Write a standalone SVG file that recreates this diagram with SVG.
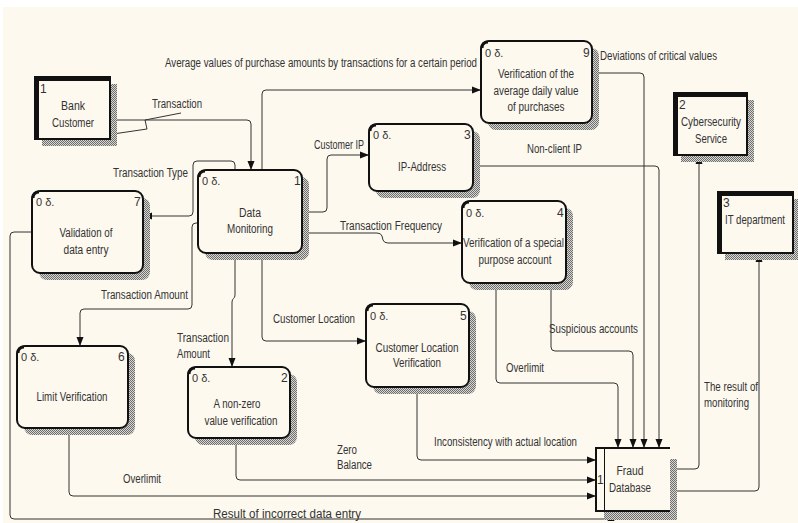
<svg xmlns="http://www.w3.org/2000/svg" xmlns:xlink="http://www.w3.org/1999/xlink" width="798" height="523" viewBox="0 0 798 523">
  <defs>
    <pattern id="hatch" width="2" height="2" patternUnits="userSpaceOnUse">
      <rect width="2" height="2" fill="#d8d6d0"/>
      <rect width="1" height="1" fill="#6e6e6e"/>
      <rect x="1" y="1" width="1" height="1" fill="#6e6e6e"/>
    </pattern>
    <!-- arrowhead, tip at the origin, pointing along +x -->
    <path id="ah" d="M0,0 L-9,-3.5 L-9,3.5 z" fill="#111"/>
    <style>
      text { font-family: "Liberation Sans Narrow", "Liberation Sans", Arial, sans-serif; font-size: 12px; fill: #333; }
      .mid { text-anchor: middle; }
      .tag { font-size: 11px; }
      .proc { fill: #fdf9ef; stroke: #111; stroke-width: 2; }
      .shadow { fill: url(#hatch); }
      .corner { fill: none; stroke: #111; stroke-width: 3; }
      .ent { fill: #fdf9ef; stroke: #111; stroke-width: 2; }
      .entthick { fill: none; stroke: #111; stroke-width: 4; }
      .flow { fill: none; stroke: #333; stroke-width: 1; }
    </style>
  </defs>

  <!-- page -->
  <rect width="798" height="523" fill="#ffffff"/>
  <rect x="3" y="7" width="795" height="516" fill="#fdf9ef"/>

  <!-- connectors -->
  <g id="connectors">
    <path class="flow" d="M110,120 H247 Q251,120 251,124 V170"/>
    <path class="flow" d="M113,134 L147,129 L145,120 L181,113"/>
    <path class="flow" d="M262,170 V94 Q262,90 266,90 H481"/>
    <path class="flow" d="M302,212 H323 Q327,212 327,208 V159 Q327,155 331,155 H369"/>
    <path class="flow" d="M302,233 H377 Q381,233 382,236 L383,240 Q384,243 388,243 H462"/>
    <path class="flow" d="M235,170 V165 Q235,161 231,161 H197 Q193,161 193,165 V212 Q193,216 189,216 H143"/>
    <path class="flow" d="M198,223 H196 Q192,223 192,227 V305 Q192,309 188,309 H84 Q80,309 80,313 V346"/>
    <path class="flow" d="M235,253 V295 C235,299 232,298 232,302 V367"/>
    <path class="flow" d="M262,253 V337 Q262,341 266,341 H366"/>
    <path class="flow" d="M32,232 H14 Q10,232 10,236 V515 Q10,519 14,519 H607 Q611,519 611,515 V511"/>
    <path class="flow" d="M69,428 V492 Q69,496 73,496 H596"/>
    <path class="flow" d="M236,438 V476 Q236,480 240,480 H596"/>
    <path class="flow" d="M417,387 V456 Q417,460 421,460 H596"/>
    <path class="flow" d="M496,283 V379 Q496,383 500,383 H614 Q618,383 618,387 V448"/>
    <path class="flow" d="M551,283 V347 Q551,351 555,351 H629 Q633,351 633,355 V448"/>
    <path class="flow" d="M592,73 H640 Q644,73 644,77 V448"/>
    <path class="flow" d="M473,166 H655 Q659,166 659,170 V448"/>
    <path class="flow" d="M670,469 H695 Q699,469 699,465 V155"/>
    <path class="flow" d="M670,491 H755 Q759,491 759,487 V253"/>
    <!-- arrowheads -->
    <use xlink:href="#ah" href="#ah" transform="translate(251,170) rotate(90)"/>
    <use xlink:href="#ah" href="#ah" transform="translate(481,90)"/>
    <use xlink:href="#ah" href="#ah" transform="translate(369,155)"/>
    <use xlink:href="#ah" href="#ah" transform="translate(462,243)"/>
    <use xlink:href="#ah" href="#ah" transform="translate(143,216) rotate(180)"/>
    <use xlink:href="#ah" href="#ah" transform="translate(80,346) rotate(90)"/>
    <use xlink:href="#ah" href="#ah" transform="translate(232,367) rotate(90)"/>
    <use xlink:href="#ah" href="#ah" transform="translate(366,341)"/>
    <use xlink:href="#ah" href="#ah" transform="translate(611,512) rotate(-90)"/>
    <use xlink:href="#ah" href="#ah" transform="translate(596,496)"/>
    <use xlink:href="#ah" href="#ah" transform="translate(596,480)"/>
    <use xlink:href="#ah" href="#ah" transform="translate(596,460)"/>
    <use xlink:href="#ah" href="#ah" transform="translate(618,448) rotate(90)"/>
    <use xlink:href="#ah" href="#ah" transform="translate(633,448) rotate(90)"/>
    <use xlink:href="#ah" href="#ah" transform="translate(644,448) rotate(90)"/>
    <use xlink:href="#ah" href="#ah" transform="translate(659,448) rotate(90)"/>
    <use xlink:href="#ah" href="#ah" transform="translate(699,155) rotate(-90)"/>
    <use xlink:href="#ah" href="#ah" transform="translate(759,253) rotate(-90)"/>
  </g>

  <!-- flow labels -->
  <g id="labels">
    <text x="165" y="67" textLength="312" lengthAdjust="spacingAndGlyphs">Average values of purchase amounts by transactions for a certain period</text>
    <text x="152" y="108" textLength="50" lengthAdjust="spacingAndGlyphs">Transaction</text>
    <text x="113" y="177" textLength="75" lengthAdjust="spacingAndGlyphs">Transaction Type</text>
    <text x="314" y="149" textLength="50" lengthAdjust="spacingAndGlyphs">Customer IP</text>
    <text x="340" y="230" textLength="102" lengthAdjust="spacingAndGlyphs">Transaction Frequency</text>
    <text x="600" y="60" textLength="117" lengthAdjust="spacingAndGlyphs">Deviations of critical values</text>
    <text x="527" y="153" textLength="55" lengthAdjust="spacingAndGlyphs">Non-client IP</text>
    <text x="101" y="299" textLength="87" lengthAdjust="spacingAndGlyphs">Transaction Amount</text>
    <text x="177" y="342" textLength="52" lengthAdjust="spacingAndGlyphs">Transaction</text>
    <text x="177" y="358" textLength="33" lengthAdjust="spacingAndGlyphs">Amount</text>
    <text x="273" y="323" textLength="82" lengthAdjust="spacingAndGlyphs">Customer Location</text>
    <text x="549" y="333" textLength="89" lengthAdjust="spacingAndGlyphs">Suspicious accounts</text>
    <text x="506" y="372" textLength="38" lengthAdjust="spacingAndGlyphs">Overlimit</text>
    <text x="434" y="446" textLength="143" lengthAdjust="spacingAndGlyphs">Inconsistency with actual location</text>
    <text x="337" y="454" textLength="20" lengthAdjust="spacingAndGlyphs">Zero</text>
    <text x="337" y="469" textLength="35" lengthAdjust="spacingAndGlyphs">Balance</text>
    <text x="123" y="483" textLength="38" lengthAdjust="spacingAndGlyphs">Overlimit</text>
    <text x="213" y="518" textLength="148" lengthAdjust="spacingAndGlyphs">Result of incorrect data entry</text>
    <text x="704" y="391" textLength="54" lengthAdjust="spacingAndGlyphs">The result of</text>
    <text x="704" y="407" textLength="45" lengthAdjust="spacingAndGlyphs">monitoring</text>
  </g>

  <!-- external entities -->
  <g id="bank-customer">
    <rect class="shadow" x="42" y="84" width="75" height="62"/>
    <rect class="ent" x="35" y="77" width="75" height="62"/>
    <path class="entthick" d="M37,139 V79 H110"/>
    <text x="40" y="93">1</text>
    <text class="mid" x="73" y="110" textLength="24" lengthAdjust="spacingAndGlyphs">Bank</text>
    <text class="mid" x="73" y="127" textLength="42" lengthAdjust="spacingAndGlyphs">Customer</text>
  </g>

  <g id="cybersecurity-service">
    <rect class="shadow" x="681" y="100" width="73" height="62"/>
    <rect class="ent" x="674" y="93" width="73" height="62"/>
    <path class="entthick" d="M676,155 V95 H747"/>
    <text x="679" y="109">2</text>
    <text class="mid" x="711" y="126" textLength="60" lengthAdjust="spacingAndGlyphs">Cybersecurity</text>
    <text class="mid" x="711" y="143" textLength="32" lengthAdjust="spacingAndGlyphs">Service</text>
  </g>

  <g id="it-department">
    <rect class="shadow" x="725" y="199" width="73" height="61"/>
    <rect class="ent" x="718" y="192" width="75" height="61"/>
    <path class="entthick" d="M720,253 V194 H793"/>
    <text x="723" y="207">3</text>
    <text x="725" y="224" textLength="60" lengthAdjust="spacingAndGlyphs">IT department</text>
  </g>

  <!-- processes -->
  <g id="data-monitoring">
    <rect class="shadow" x="205" y="177" width="104" height="83" rx="8"/>
    <rect class="proc" x="198" y="170" width="104" height="83" rx="8"/>
    <path class="corner" d="M199,177 Q199,171 205,171"/>
    <text class="tag" x="202" y="185">0 δ.</text>
    <text x="294" y="185">1</text>
    <text class="mid" x="250" y="217" textLength="22" lengthAdjust="spacingAndGlyphs">Data</text>
    <text class="mid" x="250" y="233" textLength="46" lengthAdjust="spacingAndGlyphs">Monitoring</text>
  </g>

  <g id="ip-address">
    <rect class="shadow" x="376" y="131" width="104" height="67" rx="8"/>
    <rect class="proc" x="369" y="124" width="104" height="67" rx="8"/>
    <path class="corner" d="M370,131 Q370,125 376,125"/>
    <text class="tag" x="373" y="139">0 δ.</text>
    <text x="464" y="139">3</text>
    <text class="mid" x="422" y="171" textLength="48" lengthAdjust="spacingAndGlyphs">IP-Address</text>
  </g>

  <g id="special-purpose-account">
    <rect class="shadow" x="469" y="208" width="104" height="82" rx="8"/>
    <rect class="proc" x="462" y="201" width="104" height="82" rx="8"/>
    <path class="corner" d="M463,208 Q463,202 469,202"/>
    <text class="tag" x="466" y="217">0 δ.</text>
    <text x="557" y="217">4</text>
    <text x="463" y="247" textLength="101" lengthAdjust="spacingAndGlyphs">Verification of a special</text>
    <text class="mid" x="515" y="264" textLength="73" lengthAdjust="spacingAndGlyphs">purpose account</text>
  </g>

  <g id="average-daily-value">
    <rect class="shadow" x="488" y="48" width="111" height="82" rx="8"/>
    <rect class="proc" x="481" y="41" width="111" height="82" rx="8"/>
    <path class="corner" d="M482,48 Q482,42 488,42"/>
    <text class="tag" x="485" y="57">0 δ.</text>
    <text x="583" y="57">9</text>
    <text class="mid" x="536" y="78" textLength="76" lengthAdjust="spacingAndGlyphs">Verification of the</text>
    <text class="mid" x="536" y="95" textLength="85" lengthAdjust="spacingAndGlyphs">average daily value</text>
    <text class="mid" x="536" y="111" textLength="57" lengthAdjust="spacingAndGlyphs">of purchases</text>
  </g>

  <g id="data-entry-validation">
    <rect class="shadow" x="39" y="198" width="111" height="82" rx="8"/>
    <rect class="proc" x="32" y="191" width="111" height="82" rx="8"/>
    <path class="corner" d="M33,198 Q33,192 39,192"/>
    <text class="tag" x="36" y="206">0 δ.</text>
    <text x="134" y="206">7</text>
    <text class="mid" x="86" y="237" textLength="53" lengthAdjust="spacingAndGlyphs">Validation of</text>
    <text class="mid" x="86" y="254" textLength="45" lengthAdjust="spacingAndGlyphs">data entry</text>
  </g>

  <g id="limit-verification">
    <rect class="shadow" x="24" y="353" width="111" height="82" rx="8"/>
    <rect class="proc" x="17" y="346" width="111" height="82" rx="8"/>
    <path class="corner" d="M18,353 Q18,347 24,347"/>
    <text class="tag" x="21" y="361">0 δ.</text>
    <text x="118" y="361">6</text>
    <text class="mid" x="72" y="401" textLength="71" lengthAdjust="spacingAndGlyphs">Limit Verification</text>
  </g>

  <g id="non-zero-verification">
    <rect class="shadow" x="195" y="374" width="102" height="71" rx="8"/>
    <rect class="proc" x="188" y="367" width="102" height="71" rx="8"/>
    <path class="corner" d="M189,374 Q189,368 195,368"/>
    <text class="tag" x="192" y="382">0 δ.</text>
    <text x="281" y="382">2</text>
    <text class="mid" x="237" y="408" textLength="47" lengthAdjust="spacingAndGlyphs">A non-zero</text>
    <text class="mid" x="241" y="425" textLength="73" lengthAdjust="spacingAndGlyphs">value verification</text>
  </g>

  <g id="location-verification">
    <rect class="shadow" x="373" y="311" width="103" height="83" rx="8"/>
    <rect class="proc" x="366" y="304" width="103" height="83" rx="8"/>
    <path class="corner" d="M367,311 Q367,305 373,305"/>
    <text class="tag" x="370" y="320">0 δ.</text>
    <text x="460" y="320">5</text>
    <text class="mid" x="417" y="352" textLength="83" lengthAdjust="spacingAndGlyphs">Customer Location</text>
    <text class="mid" x="417" y="367" textLength="48" lengthAdjust="spacingAndGlyphs">Verification</text>
  </g>

  <!-- data store -->
  <g id="fraud-database">
    <rect class="shadow" x="670" y="459" width="7" height="61"/>
    <rect class="shadow" x="604" y="512" width="73" height="8"/>
    <rect x="596" y="448" width="74" height="63" fill="#fdf9ef"/>
    <path fill="none" stroke="#111" stroke-width="2" d="M670,448 H596 V511 H670"/>
    <path fill="none" stroke="#111" stroke-width="1" d="M604.5,448 V511"/>
    <text x="597" y="484">1</text>
    <text class="mid" x="630" y="475" textLength="27" lengthAdjust="spacingAndGlyphs">Fraud</text>
    <text class="mid" x="630" y="492" textLength="42" lengthAdjust="spacingAndGlyphs">Database</text>
  </g>
</svg>
